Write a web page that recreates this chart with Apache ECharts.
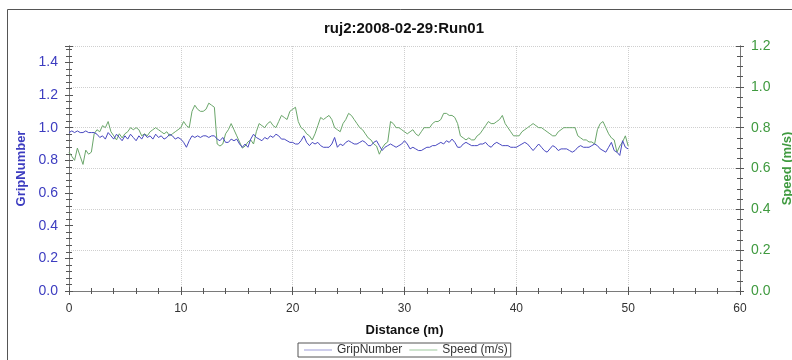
<!DOCTYPE html>
<html>
<head>
<meta charset="utf-8">
<script src="https://cdn.jsdelivr.net/npm/echarts@6/dist/echarts.min.js"></script>
<style>html,body{margin:0;padding:0;background:#fff;overflow:hidden;}#c{width:792px;height:360px;}</style>
</head>
<body>
<div id="c"></div>
<script>
const distance = [0,0.25,0.5,0.75,1,1.25,1.5,1.75,2,2.25,2.5,2.75,3,3.25,3.5,3.75,4,4.25,4.5,4.75,5,5.25,5.5,5.75,6,6.25,6.5,6.75,7,7.25,7.5,7.75,8,8.25,8.5,8.75,9,9.25,9.5,9.75,10,10.25,10.5,10.75,11,11.25,11.5,11.75,12,12.25,12.5,12.75,13,13.25,13.5,13.75,14,14.25,14.5,14.75,15,15.25,15.5,15.75,16,16.25,16.5,16.75,17,17.25,17.5,17.75,18,18.25,18.5,18.75,19,19.25,19.5,19.75,20,20.25,20.5,20.75,21,21.25,21.5,21.75,22,22.25,22.5,22.75,23,23.25,23.5,23.75,24,24.25,24.5,24.75,25,25.25,25.5,25.75,26,26.25,26.5,26.75,27,27.25,27.5,27.75,28,28.25,28.5,28.75,29,29.25,29.5,29.75,30,30.25,30.5,30.75,31,31.25,31.5,31.75,32,32.25,32.5,32.75,33,33.25,33.5,33.75,34,34.25,34.5,34.75,35,35.25,35.5,35.75,36,36.25,36.5,36.75,37,37.25,37.5,37.75,38,38.25,38.5,38.75,39,39.25,39.5,39.75,40,40.25,40.5,40.75,41,41.25,41.5,41.75,42,42.25,42.5,42.75,43,43.25,43.5,43.75,44,44.25,44.5,44.75,45,45.25,45.5,45.75,46,46.25,46.5,46.75,47,47.25,47.5,47.75,48,48.25,48.5,48.75,49,49.25,49.5,49.75,50];

const gripNumber = [0.97,0.98,0.97,0.98,0.97,0.97,0.98,0.97,0.97,0.97,0.96,0.94,0.95,0.93,0.97,0.95,0.93,0.96,0.94,0.92,
0.95,0.93,0.96,0.94,0.92,0.95,0.93,0.96,0.94,0.95,0.93,0.96,0.94,0.95,0.93,0.94,0.96,0.95,0.93,0.94,
0.93,0.91,0.88,0.92,0.95,0.94,0.95,0.94,0.95,0.95,0.94,0.95,0.95,0.93,0.92,0.94,0.91,0.91,0.93,0.92,
0.93,0.90,0.88,0.90,0.88,0.93,0.96,0.94,0.93,0.92,0.94,0.93,0.95,0.94,0.96,0.95,0.93,0.93,0.92,0.91,
0.91,0.90,0.90,0.92,0.95,0.91,0.89,0.91,0.90,0.91,0.89,0.88,0.88,0.88,0.90,0.94,0.88,0.90,0.89,0.91,
0.92,0.91,0.90,0.90,0.91,0.92,0.91,0.89,0.89,0.91,0.92,0.89,0.86,0.88,0.89,0.90,0.89,0.88,0.89,0.90,
0.92,0.90,0.87,0.88,0.87,0.86,0.86,0.87,0.88,0.88,0.89,0.89,0.90,0.91,0.90,0.92,0.91,0.93,0.91,0.88,
0.88,0.90,0.91,0.90,0.89,0.89,0.89,0.90,0.90,0.91,0.89,0.88,0.90,0.91,0.90,0.89,0.89,0.89,0.88,0.88,
0.88,0.89,0.90,0.91,0.90,0.88,0.86,0.88,0.90,0.88,0.86,0.85,0.87,0.89,0.88,0.86,0.87,0.87,0.87,0.86,
0.85,0.86,0.88,0.89,0.88,0.88,0.88,0.89,0.90,0.89,0.87,0.86,0.85,0.88,0.91,0.86,0.85,0.83,0.92,0.88,
0.87];

const speed = [0.68,0.66,0.64,0.70,0.66,0.62,0.69,0.67,0.68,0.77,0.79,0.78,0.81,0.80,0.83,0.78,0.76,0.74,0.77,0.75,
0.77,0.78,0.80,0.79,0.80,0.79,0.76,0.77,0.76,0.78,0.79,0.80,0.79,0.78,0.77,0.78,0.76,0.77,0.78,0.79,
0.80,0.83,0.81,0.80,0.88,0.91,0.89,0.88,0.88,0.89,0.92,0.91,0.90,0.72,0.71,0.72,0.77,0.79,0.82,0.79,
0.76,0.73,0.70,0.71,0.73,0.74,0.72,0.78,0.82,0.81,0.80,0.82,0.83,0.81,0.80,0.83,0.86,0.85,0.84,0.88,
0.89,0.90,0.83,0.80,0.79,0.77,0.76,0.74,0.77,0.81,0.85,0.84,0.85,0.86,0.84,0.80,0.79,0.78,0.82,0.84,
0.87,0.86,0.84,0.82,0.80,0.79,0.77,0.75,0.74,0.72,0.71,0.67,0.70,0.72,0.73,0.83,0.82,0.80,0.80,0.79,
0.78,0.77,0.78,0.79,0.77,0.76,0.78,0.80,0.80,0.80,0.82,0.83,0.83,0.84,0.87,0.87,0.86,0.86,0.85,0.82,
0.76,0.75,0.74,0.75,0.74,0.74,0.76,0.77,0.79,0.81,0.83,0.82,0.82,0.83,0.84,0.86,0.82,0.80,0.78,0.76,
0.76,0.76,0.78,0.79,0.80,0.81,0.82,0.81,0.80,0.80,0.79,0.78,0.77,0.76,0.76,0.78,0.79,0.80,0.80,0.80,
0.80,0.80,0.76,0.75,0.74,0.74,0.73,0.73,0.72,0.79,0.82,0.83,0.80,0.77,0.75,0.74,0.68,0.71,0.73,0.76,
0.71];

const xTicks = [0,10,20,30,40,50,60];
const gripTicks = [0.0,0.2,0.4,0.6,0.8,1.0,1.2,1.4];
const speedTicks = [0.0,0.2,0.4,0.6,0.8,1.0,1.2];

const FONT = 'Liberation Sans, Arial, sans-serif';
const AXC = '#7a7a7a';
const BLUE = '#4848c0';
const GREEN = '#6aa66a';
const LBLUE = '#3c3cc0';
const LGREEN = '#3f9a3f';

const chart = echarts.init(document.getElementById('c'), null, {renderer: 'canvas', width: 792, height: 360});

function xAx(pos, inside, show) {
  return {
    type: 'value', position: pos, min: 0, max: 60, interval: 10,
    axisLine: {show: true, lineStyle: {color: AXC, width: 1}},
    axisTick: {show: true, inside: inside, length: 4, lineStyle: {color: '#555'}},
    minorTick: {show: true, splitNumber: 5, length: 3, lineStyle: {color: '#555'}},
    axisLabel: {show: show, color: '#333', fontFamily: FONT, fontSize: 12, margin: 12},
    splitLine: {show: false}
  };
}
function yAx(pos, max, interval, minor, inside, show, color) {
  return {
    type: 'value', position: pos, min: 0, max: max, interval: interval,
    axisLine: {show: true, onZero: false, lineStyle: {color: AXC, width: 1}},
    axisTick: {show: true, inside: inside, length: 4, lineStyle: {color: '#555'}},
    minorTick: {show: true, splitNumber: minor, length: 3, lineStyle: {color: '#555'}},
    axisLabel: {show: show, color: color, fontFamily: FONT, fontSize: 14, margin: 11,
      showMaxLabel: max === 1.2, formatter: v => v.toFixed(1)},
    splitLine: {show: false}
  };
}

const xMain = xAx('bottom', false, true);
xMain.name = 'Distance (m)';
xMain.nameLocation = 'middle';
xMain.nameGap = 33;
xMain.nameTextStyle = {color: '#111', fontWeight: 'bold', fontSize: 13, fontFamily: FONT};
xMain.splitLine = {show: true, lineStyle: {color: '#cfcfcf', type: [1, 1], width: 1}};

const yLeft = yAx('left', 1.5, 0.2, 5, false, true, LBLUE);
yLeft.name = 'GripNumber';
yLeft.nameLocation = 'middle';
yLeft.nameGap = 38;
yLeft.nameTextStyle = {color: LBLUE, fontWeight: 'bold', fontSize: 13, fontFamily: FONT};

const yRight = yAx('right', 1.2, 0.2, 4, false, true, LGREEN);
yRight.name = 'Speed (m/s)';
yRight.nameLocation = 'middle';
yRight.nameGap = 37;
yRight.nameRotate = 90;
yRight.nameTextStyle = {color: LGREEN, fontWeight: 'bold', fontSize: 13, fontFamily: FONT};
yRight.splitLine = {show: true, lineStyle: {color: '#cfcfcf', type: [1, 1], width: 1}};

const option = {
  animation: false,
  backgroundColor: '#fff',
  title: {
    text: 'ruj2:2008-02-29:Run01', left: 399, top: 16, textAlign: 'center',
    textStyle: {fontFamily: FONT, fontSize: 15, fontWeight: 'bold', color: '#111'}
  },
  grid: {left: 69, right: 52, top: 46, bottom: 69, containLabel: false, outerBoundsMode: 'none'},
  xAxis: [xMain, xAx('bottom', true, false), xAx('top', true, false), xAx('top', false, false)],
  yAxis: [yLeft, yRight, yAx('left', 1.5, 0.2, 5, true, false, LBLUE), yAx('right', 1.2, 0.2, 4, true, false, LGREEN)],
  legend: {
    left: 298, top: 343, orient: 'horizontal',
    itemWidth: 28, itemHeight: 1, itemGap: 7,
    icon: 'rect',
    padding: [1, 3, 1, 6],
    borderColor: '#555', borderWidth: 1,
    textStyle: {fontFamily: FONT, fontSize: 12, color: '#333'},
    data: [
      {name: 'GripNumber', itemStyle: {color: '#9c9cd8'}},
      {name: 'Speed (m/s)', itemStyle: {color: '#9cc89c'}}
    ]
  },
  graphic: [{
    type: 'rect', silent: true, z: -1,
    shape: {x: 7.5, y: 9.5, width: 820, height: 400},
    style: {fill: 'none', stroke: '#555', lineWidth: 1}
  }],
  series: [
    {
      name: 'GripNumber', type: 'line', xAxisIndex: 0, yAxisIndex: 0,
      data: distance.map((d, i) => [d, gripNumber[i]]),
      showSymbol: false, symbol: 'none',
      lineStyle: {color: BLUE, width: 1}, itemStyle: {color: BLUE}, z: 3
    },
    {
      name: 'Speed (m/s)', type: 'line', xAxisIndex: 0, yAxisIndex: 1,
      data: distance.map((d, i) => [d, speed[i]]),
      showSymbol: false, symbol: 'none',
      lineStyle: {color: GREEN, width: 1}, itemStyle: {color: GREEN}, z: 2
    }
  ]
};
chart.setOption(option);
</script>
</body>
</html>
